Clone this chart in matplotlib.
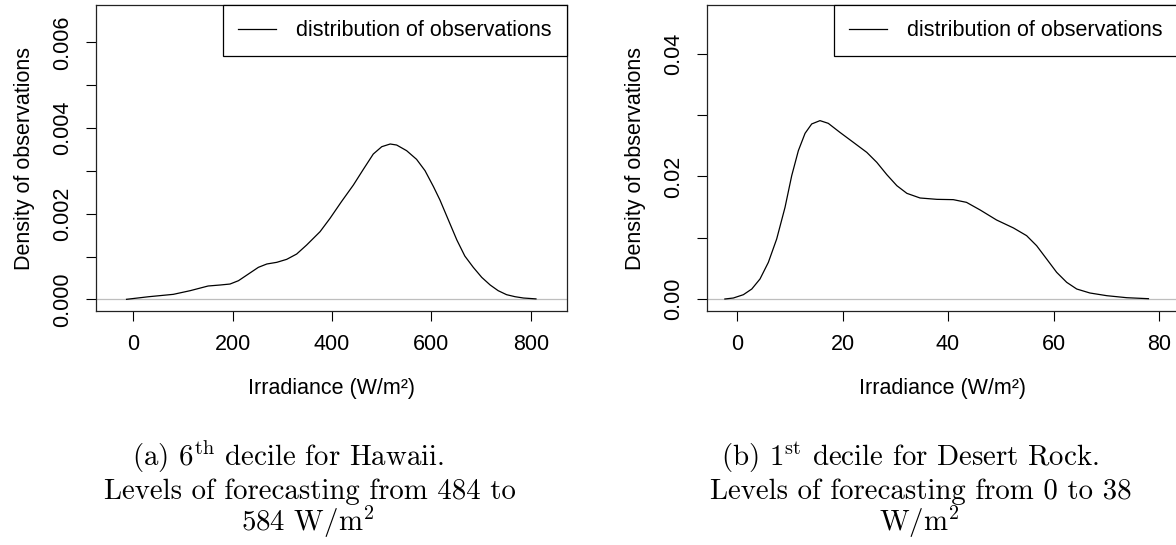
import matplotlib
matplotlib.use("Agg")
import matplotlib.pyplot as plt

# density curves
hawaii_x = [-13, 31, 81, 115, 151, 175, 195, 212, 232, 252, 269, 289, 309,
            329, 349, 376, 396, 419, 443, 463, 483, 500, 517, 530, 550, 570,
            587, 604, 617, 634, 651, 667, 684, 701, 718, 734, 751, 768, 785, 810]
hawaii_y = [0.0, 0.00006, 0.000116, 0.000202, 0.000311, 0.000334, 0.000357,
            0.000435, 0.000591, 0.000747, 0.000825, 0.000864, 0.000934,
            0.001058, 0.001268, 0.00158, 0.001891, 0.002281, 0.00267,
            0.003036, 0.003394, 0.003565, 0.003628, 0.003604, 0.003472,
            0.00327, 0.003005, 0.002631, 0.00232, 0.001852, 0.001385,
            0.001011, 0.000747, 0.000513, 0.000334, 0.000202, 0.000108,
            0.000061, 0.00003, 0.00001]

desert_x = [-2.3, -0.7, 1.2, 2.8, 4.36, 5.94, 7.52, 9.1, 10.37, 11.63, 12.9,
            14.16, 15.73, 17.3, 19.5, 22.05, 24.6, 26.5, 28.4, 30.3, 32.2,
            34.7, 37.9, 41.0, 43.5, 46.1, 49.2, 52.4, 54.9, 56.8, 58.7, 60.6,
            62.5, 64.4, 66.9, 70.1, 73.9, 78.0]
desert_y = [0.0, 0.00016, 0.0007, 0.00163, 0.00327, 0.00598, 0.0098, 0.01496,
            0.02014, 0.02422, 0.02705, 0.02858, 0.02912, 0.02868, 0.02721,
            0.02558, 0.02394, 0.02231, 0.0203, 0.0185, 0.01725, 0.01649,
            0.01627, 0.01622, 0.01578, 0.01453, 0.0129, 0.0116, 0.01034,
            0.0087, 0.00653, 0.00435, 0.00272, 0.00163, 0.00098, 0.00054,
            0.00021, 0.00005]

hawaii_xticks = [0, 200, 400, 600, 800]
hawaii_yticks = [0.000, 0.001, 0.002, 0.003, 0.004, 0.005, 0.006]
hawaii_ylabels = ["0.000", "", "0.002", "", "0.004", "", "0.006"]
desert_xticks = [0, 20, 40, 60, 80]
desert_yticks = [0.00, 0.01, 0.02, 0.03, 0.04]
desert_ylabels = ["0.00", "", "0.02", "", "0.04"]

captions_a = [r"(a) 6$^{\mathrm{th}}$ decile for Hawaii.",
              "Levels of forecasting from 484 to",
              r"584 W/m$^{2}$"]
captions_b = [r"(b) 1$^{\mathrm{st}}$ decile for Desert Rock.",
              "Levels of forecasting from 0 to 38",
              r"W/m$^{2}$"]

plt.rcParams['font.family'] = ['Liberation Sans', 'DejaVu Sans']
plt.rcParams['mathtext.fontset'] = 'cm'

W, H = 1176, 545
fig = plt.figure(figsize=(W / 100, H / 100), dpi=100)


def panel(rect, xs, ys, xlim, ylim, xticks, yticks, ylabels):
    ax = fig.add_axes(rect)
    ax.axhline(0, color='#bebebe', lw=0.9, zorder=1)
    ax.plot(xs, ys, color='black', lw=0.9, label='distribution of observations',
            solid_joinstyle='round', zorder=2)
    ax.set_xlim(*xlim)
    ax.set_ylim(*ylim)
    ax.set_xticks(xticks)
    ax.set_yticks(yticks)
    ax.set_yticklabels(ylabels, rotation=90, va='center')
    ax.tick_params(direction='out', length=7.5, width=0.8, labelsize=15.5, colors='black')
    ax.tick_params(axis='x', pad=9)
    ax.tick_params(axis='y', pad=9)
    for s in ax.spines.values():
        s.set_linewidth(0.9)
        s.set_color('#222222')
    ax.set_xlabel('Irradiance (W/m²)', fontsize=15.5, labelpad=16.5)
    ax.set_ylabel('Density of observations', fontsize=15.5, labelpad=12)
    leg = ax.legend(loc='upper right', borderaxespad=0, fontsize=15.5, fancybox=False,
                    handlelength=1.76, handletextpad=0.97, borderpad=0.7, framealpha=1)
    leg.get_frame().set_edgecolor('black')
    leg.get_frame().set_linewidth(0.9)
    return ax


panel([96 / W, 1 - 311 / H, 471 / W, 306 / H], hawaii_x, hawaii_y,
      (-74.4, 872.4), (-0.000273, 0.006875), hawaii_xticks, hawaii_yticks, hawaii_ylabels)
panel([707 / W, 1 - 311 / H, 471 / W, 306 / H], desert_x, desert_y,
      (-5.69, 83.6), (-0.00196, 0.048), desert_xticks, desert_yticks, desert_ylabels)

# captions below each panel
cx_a = [288, 310, 308]
cx_b = [910, 921, 919]
base_y = [466, 499, 531]
for i in range(3):
    fig.text(cx_a[i] / W, 1 - base_y[i] / H, captions_a[i], family='cmr10',
             fontsize=20.8, ha='center', va='baseline')
    fig.text(cx_b[i] / W, 1 - base_y[i] / H, captions_b[i], family='cmr10',
             fontsize=20.8, ha='center', va='baseline')

fig.savefig('out.png', dpi=100)
